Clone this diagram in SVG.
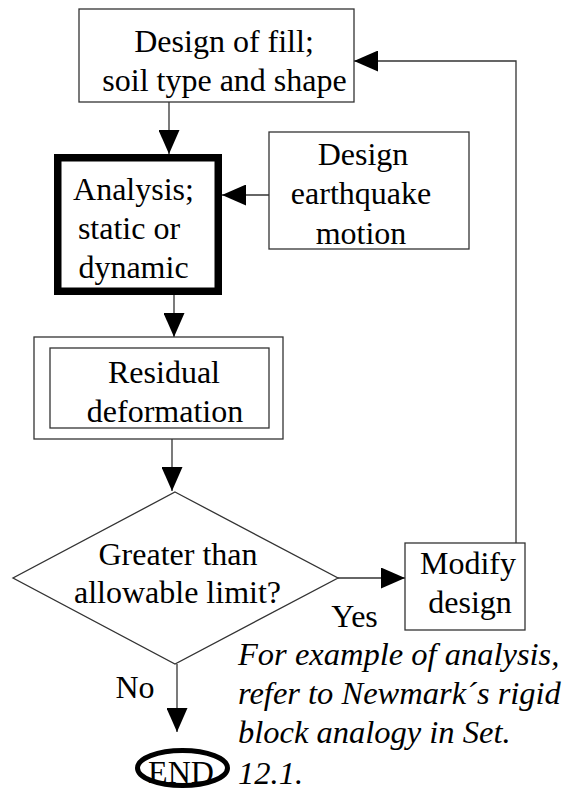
<svg xmlns="http://www.w3.org/2000/svg" width="567" height="791" viewBox="0 0 567 791">
<defs>
<marker id="arr" markerUnits="userSpaceOnUse" markerWidth="24" markerHeight="21" refX="24" refY="10.5" orient="auto">
<path d="M0,0 L24,10.5 L0,21 Z" fill="#000"/>
</marker>
</defs>
<rect width="567" height="791" fill="#fff"/>
<g id="connectors" fill="none" stroke="#333" stroke-width="1.3">
<line x1="169" y1="102" x2="169" y2="154" marker-end="url(#arr)"/>
<line x1="269" y1="195" x2="222" y2="195" marker-end="url(#arr)"/>
<line x1="174" y1="295" x2="174" y2="337" marker-end="url(#arr)"/>
<line x1="172" y1="439" x2="172" y2="491" marker-end="url(#arr)"/>
<line x1="338" y1="578" x2="405" y2="578" marker-end="url(#arr)"/>
<line x1="177" y1="664" x2="177" y2="732" marker-end="url(#arr)"/>
<polyline points="516,543 516,61 354,61" marker-end="url(#arr)"/>
</g>
<g id="design-fill">
<rect x="79" y="9" width="275" height="93" fill="#fff" stroke="#333" stroke-width="1.3"/>
<text font-family="'Liberation Serif'" font-size="32" text-anchor="middle" x="224" y="52">Design of fill;</text>
<text font-family="'Liberation Serif'" font-size="32" text-anchor="middle" x="224.5" y="91">soil type and shape</text>
</g>
<g id="analysis">
<rect x="57.75" y="157.75" width="160.5" height="133.5" fill="#fff" stroke="#000" stroke-width="7.5"/>
<text font-family="'Liberation Serif'" font-size="32" text-anchor="middle" x="133.5" y="200">Analysis;</text>
<text font-family="'Liberation Serif'" font-size="32" text-anchor="middle" x="129" y="239">static or</text>
<text font-family="'Liberation Serif'" font-size="32" text-anchor="middle" x="133.5" y="278">dynamic</text>
</g>
<g id="earthquake">
<rect x="269" y="132" width="200" height="117" fill="#fff" stroke="#333" stroke-width="1.3"/>
<text font-family="'Liberation Serif'" font-size="32" text-anchor="middle" x="363" y="165">Design</text>
<text font-family="'Liberation Serif'" font-size="32" text-anchor="middle" x="361" y="204">earthquake</text>
<text font-family="'Liberation Serif'" font-size="32" text-anchor="middle" x="361" y="244">motion</text>
</g>
<g id="residual">
<rect x="34" y="337" width="249" height="102" fill="#fff" stroke="#333" stroke-width="1.3"/>
<rect x="50" y="348" width="219" height="80" fill="#fff" stroke="#333" stroke-width="1.3"/>
<text font-family="'Liberation Serif'" font-size="32" text-anchor="middle" x="164" y="383">Residual</text>
<text font-family="'Liberation Serif'" font-size="32" text-anchor="middle" x="165" y="422">deformation</text>
</g>
<g id="decision">
<polygon points="175,492 338,578 175,664 13,578" fill="#fff" stroke="#333" stroke-width="1.3"/>
<text font-family="'Liberation Serif'" font-size="32" text-anchor="middle" x="178" y="565">Greater than</text>
<text font-family="'Liberation Serif'" font-size="32" text-anchor="middle" x="177.5" y="603">allowable limit?</text>
</g>
<g id="modify">
<rect x="405" y="543" width="120" height="87" fill="#fff" stroke="#333" stroke-width="1.3"/>
<text font-family="'Liberation Serif'" font-size="32" text-anchor="middle" x="468" y="574">Modify</text>
<text font-family="'Liberation Serif'" font-size="32" text-anchor="middle" x="470" y="613">design</text>
</g>
<g id="end">
<ellipse cx="182.5" cy="768" rx="45" ry="17.5" fill="#fff" stroke="#000" stroke-width="5"/>
<text font-family="'Liberation Serif'" font-size="32" text-anchor="middle" x="181" y="783">END</text>
</g>
<g id="labels">
<text font-family="'Liberation Serif'" font-size="32" text-anchor="middle" x="354.5" y="627">Yes</text>
<text font-family="'Liberation Serif'" font-size="32" text-anchor="middle" x="135" y="698">No</text>
<text font-family="'Liberation Serif'" font-size="32.5" font-style="italic" x="238" y="665">For example of analysis,</text>
<text font-family="'Liberation Serif'" font-size="32.5" font-style="italic" x="238" y="704">refer to Newmark&#180;s rigid</text>
<text font-family="'Liberation Serif'" font-size="32.5" font-style="italic" x="238" y="743">block analogy in Set.</text>
<text font-family="'Liberation Serif'" font-size="32.5" font-style="italic" x="238" y="784">12.1.</text>
</g>
</svg>
